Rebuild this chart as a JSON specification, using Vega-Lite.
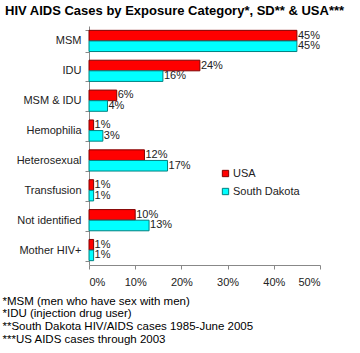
{
  "$schema": "https://vega.github.io/schema/vega-lite/v6.json",
  "width": 231,
  "height": 239,
  "autosize": {"type": "none"},
  "padding": {"left": 89, "top": 26, "right": 40, "bottom": 88},
  "background": "white",
  "title": {
    "text": "HIV AIDS Cases by Exposure Category*, SD** & USA***",
    "anchor": "start",
    "frame": "group",
    "dx": -84,
    "fontSize": 13,
    "fontWeight": "bold",
    "font": "Liberation Sans",
    "color": "#000000",
    "offset": 2
  },
  "config": {
    "font": "Liberation Sans",
    "view": {"stroke": null},
    "legend": {
      "orient": "none",
      "legendX": 131,
      "legendY": 142,
      "symbolType": "square",
      "symbolSize": 40,
      "symbolStrokeWidth": 1,
      "labelFontSize": 11,
      "labelColor": "#222222",
      "labelFont": "Liberation Sans",
      "rowPadding": 6,
      "labelOffset": 2
    }
  },
  "data": {
    "values": [
      {"category": "MSM", "series": "USA", "value": 0.45},
      {"category": "MSM", "series": "South Dakota", "value": 0.45},
      {"category": "IDU", "series": "USA", "value": 0.24},
      {"category": "IDU", "series": "South Dakota", "value": 0.16},
      {"category": "MSM & IDU", "series": "USA", "value": 0.06},
      {"category": "MSM & IDU", "series": "South Dakota", "value": 0.04},
      {"category": "Hemophilia", "series": "USA", "value": 0.01},
      {"category": "Hemophilia", "series": "South Dakota", "value": 0.03},
      {"category": "Heterosexual", "series": "USA", "value": 0.12},
      {"category": "Heterosexual", "series": "South Dakota", "value": 0.17},
      {"category": "Transfusion", "series": "USA", "value": 0.01},
      {"category": "Transfusion", "series": "South Dakota", "value": 0.01},
      {"category": "Not identified", "series": "USA", "value": 0.10},
      {"category": "Not identified", "series": "South Dakota", "value": 0.13},
      {"category": "Mother HIV+", "series": "USA", "value": 0.01},
      {"category": "Mother HIV+", "series": "South Dakota", "value": 0.01}
    ]
  },
  "encoding": {
    "y": {
      "field": "category",
      "type": "nominal",
      "sort": ["MSM", "IDU", "MSM & IDU", "Hemophilia", "Heterosexual", "Transfusion", "Not identified", "Mother HIV+"],
      "scale": {"paddingInner": 0.29, "paddingOuter": 0.145},
      "axis": {
        "title": null,
        "tickBand": "extent",
        "tickSize": 4,
        "tickColor": "#888888",
        "domainColor": "#888888",
        "labelPadding": 4,
        "labelFontSize": 11,
        "labelColor": "#222222",
        "labelFont": "Liberation Sans"
      }
    },
    "yOffset": {"field": "series", "type": "nominal", "sort": ["USA", "South Dakota"]},
    "x": {
      "field": "value",
      "type": "quantitative",
      "scale": {"domain": [0, 0.5], "nice": false},
      "axis": {
        "values": [0, 0.1, 0.2, 0.3, 0.4, 0.5],
        "format": ".0%",
        "grid": false,
        "tickSize": 4,
        "tickColor": "#888888",
        "domainColor": "#888888",
        "labelPadding": 7,
        "labelFontSize": 11,
        "labelColor": "#222222",
        "labelFont": "Liberation Sans",
        "title": [
          "*MSM (men who have sex with men)",
          "*IDU (injection drug user)",
          "**South Dakota HIV/AIDS cases 1985-June 2005",
          "***US AIDS cases through 2003"
        ],
        "titleAnchor": "start",
        "titleAlign": "left",
        "titleX": -87,
        "titleY": 30,
        "titleBaseline": "top",
        "titleFontSize": 11.5,
        "titleFontWeight": "normal",
        "titleColor": "#000000",
        "titleFont": "Liberation Sans",
        "titleLineHeight": 12.7
      }
    }
  },
  "layer": [
    {
      "mark": {"type": "bar", "strokeWidth": 1},
      "encoding": {
        "fill": {
          "field": "series",
          "type": "nominal",
          "scale": {"domain": ["USA", "South Dakota"], "range": ["#ff0000", "#00ffff"]},
          "legend": {"title": null}
        },
        "stroke": {
          "field": "series",
          "type": "nominal",
          "scale": {"domain": ["USA", "South Dakota"], "range": ["#800000", "#008080"]},
          "legend": {"title": null}
        }
      }
    },
    {
      "mark": {"type": "text", "align": "left", "baseline": "middle", "dx": 1, "fontSize": 11, "color": "#222222", "font": "Liberation Sans"},
      "encoding": {
        "text": {"field": "value", "type": "quantitative", "format": ".0%"}
      }
    }
  ]
}
